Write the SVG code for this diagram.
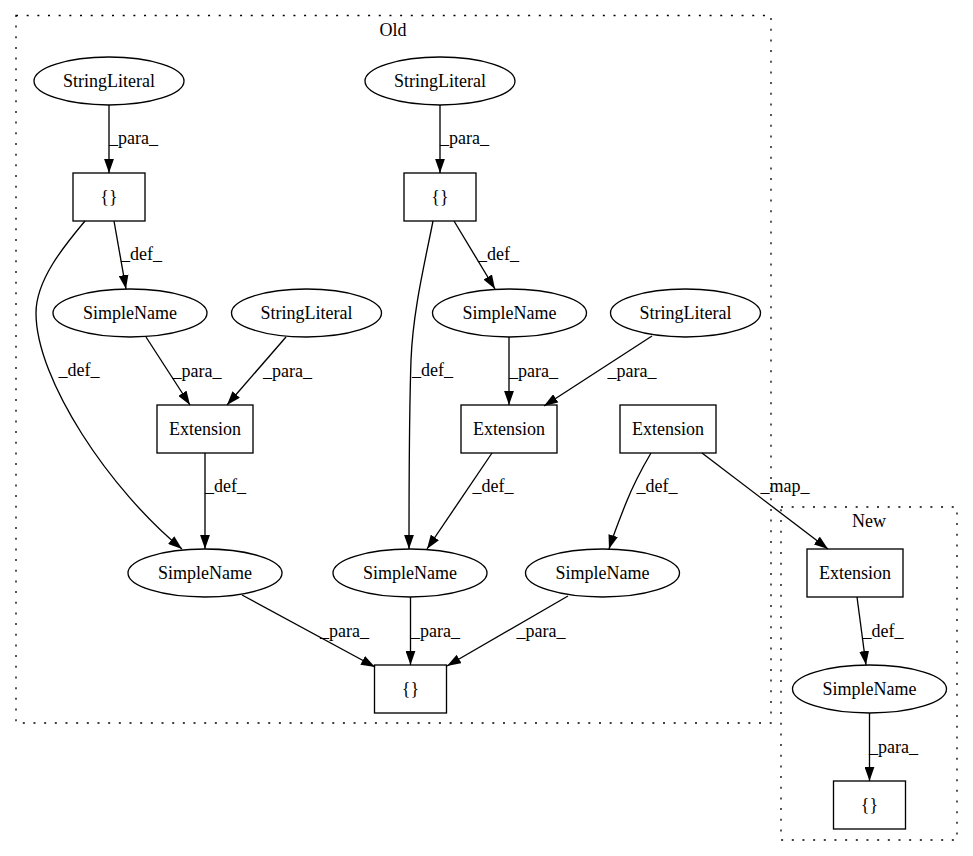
<svg xmlns="http://www.w3.org/2000/svg" width="973" height="856" viewBox="0 0 973 856">
<style>
text{font-family:"Liberation Serif","Times New Roman",serif;font-size:18px;fill:#000;text-anchor:middle}
.n{fill:none;stroke:#000;stroke-width:1.33}
.e{fill:none;stroke:#000;stroke-width:1.33}
.cl{fill:none;stroke:#000;stroke-width:1.33;stroke-dasharray:2 8.67}
</style>
<defs>
<marker id="ah" markerUnits="userSpaceOnUse" markerWidth="14" markerHeight="10" viewBox="0 0 13.33 9.33" refX="13.33" refY="4.67" orient="auto">
<path d="M0,0 L13.33,4.67 L0,9.33 z" fill="#000"/>
</marker>
</defs>
<rect width="973" height="856" fill="#fff"/>
<g id="cluster_old">
<rect class="cl" x="16" y="15.5" width="755" height="707.5"/>
<text x="393" y="35.5">Old</text>
</g>
<g id="cluster_new">
<rect class="cl" x="781" y="507" width="176" height="333"/>
<text x="869" y="527">New</text>
</g>
<g id="edges">
<path class="e" marker-end="url(#ah)" d="M109,105 L109,173"/>
<text x="133.5" y="144">_para_</text>
<path class="e" marker-end="url(#ah)" d="M440,105 L440,173"/>
<text x="464.5" y="144">_para_</text>
<path class="e" marker-end="url(#ah)" d="M114,221 L126,289"/>
<text x="141.5" y="260">_def_</text>
<path class="e" marker-end="url(#ah)" d="M85,221 C64,246 36,280 36,313 C36,380 110,490 182,549"/>
<text x="79" y="376">_def_</text>
<path class="e" marker-end="url(#ah)" d="M454,221 L495,289"/>
<text x="498.5" y="260">_def_</text>
<path class="e" marker-end="url(#ah)" d="M433,221 C425,262 413,310 411,360 C409,420 409,490 409,549"/>
<text x="432.5" y="376">_def_</text>
<path class="e" marker-end="url(#ah)" d="M146,337 L190,405"/>
<text x="197" y="377">_para_</text>
<path class="e" marker-end="url(#ah)" d="M286,337 L227,405"/>
<text x="287.5" y="377">_para_</text>
<path class="e" marker-end="url(#ah)" d="M509,337 L509,405"/>
<text x="533.5" y="377">_para_</text>
<path class="e" marker-end="url(#ah)" d="M652,336 L544,406"/>
<text x="632" y="377">_para_</text>
<path class="e" marker-end="url(#ah)" d="M205,453 L205,549"/>
<text x="225.5" y="492">_def_</text>
<path class="e" marker-end="url(#ah)" d="M492,453 L427,549"/>
<text x="493" y="492">_def_</text>
<path class="e" marker-end="url(#ah)" d="M651,453 C641,470 632,488 626,503 C620,518 614,533 609,549"/>
<text x="657" y="492">_def_</text>
<path class="e" marker-end="url(#ah)" d="M702,453 L828,549"/>
<text x="785" y="492">_map_</text>
<path class="e" marker-end="url(#ah)" d="M242,595 L375,667"/>
<text x="344.5" y="637">_para_</text>
<path class="e" marker-end="url(#ah)" d="M410.5,597 L410.5,665"/>
<text x="435.5" y="637">_para_</text>
<path class="e" marker-end="url(#ah)" d="M568,596 L447,666"/>
<text x="541" y="637">_para_</text>
<path class="e" marker-end="url(#ah)" d="M857,597 L866,665"/>
<text x="883" y="637">_def_</text>
<path class="e" marker-end="url(#ah)" d="M869.5,713 L869.5,781"/>
<text x="893.5" y="753">_para_</text>
</g>
<g id="n_sl1"><ellipse class="n" cx="109" cy="81" rx="75" ry="24"/><text x="109" y="87">StringLiteral</text></g>
<g id="n_sl2"><ellipse class="n" cx="440" cy="81" rx="75" ry="24"/><text x="440" y="87">StringLiteral</text></g>
<g id="n_br1"><rect class="n" x="73" y="173" width="72" height="48"/><text x="109" y="203">{}</text></g>
<g id="n_br2"><rect class="n" x="404" y="173" width="72" height="48"/><text x="440" y="203">{}</text></g>
<g id="n_sn1"><ellipse class="n" cx="130" cy="313" rx="77" ry="24"/><text x="130" y="319">SimpleName</text></g>
<g id="n_sl3"><ellipse class="n" cx="306.5" cy="313" rx="75" ry="24"/><text x="306.5" y="319">StringLiteral</text></g>
<g id="n_sn2"><ellipse class="n" cx="509.5" cy="313" rx="77" ry="24"/><text x="509.5" y="319">SimpleName</text></g>
<g id="n_sl4"><ellipse class="n" cx="685.5" cy="313" rx="75" ry="24"/><text x="685.5" y="319">StringLiteral</text></g>
<g id="n_ext1"><rect class="n" x="157" y="405" width="96" height="48"/><text x="205" y="435">Extension</text></g>
<g id="n_ext2"><rect class="n" x="461" y="405" width="96" height="48"/><text x="509" y="435">Extension</text></g>
<g id="n_ext3"><rect class="n" x="620" y="405" width="96" height="48"/><text x="668" y="435">Extension</text></g>
<g id="n_sn3"><ellipse class="n" cx="205" cy="573" rx="77" ry="24"/><text x="205" y="579">SimpleName</text></g>
<g id="n_sn4"><ellipse class="n" cx="410" cy="573" rx="77" ry="24"/><text x="410" y="579">SimpleName</text></g>
<g id="n_sn5"><ellipse class="n" cx="602.5" cy="573" rx="77" ry="24"/><text x="602.5" y="579">SimpleName</text></g>
<g id="n_br3"><rect class="n" x="374.5" y="665" width="72" height="48"/><text x="410.5" y="695">{}</text></g>
<g id="n_ext4"><rect class="n" x="807" y="549" width="96" height="48"/><text x="855" y="579">Extension</text></g>
<g id="n_sn6"><ellipse class="n" cx="869.5" cy="689" rx="77" ry="24"/><text x="869.5" y="695">SimpleName</text></g>
<g id="n_br4"><rect class="n" x="833.5" y="781" width="72" height="48"/><text x="869.5" y="811">{}</text></g>
</svg>
